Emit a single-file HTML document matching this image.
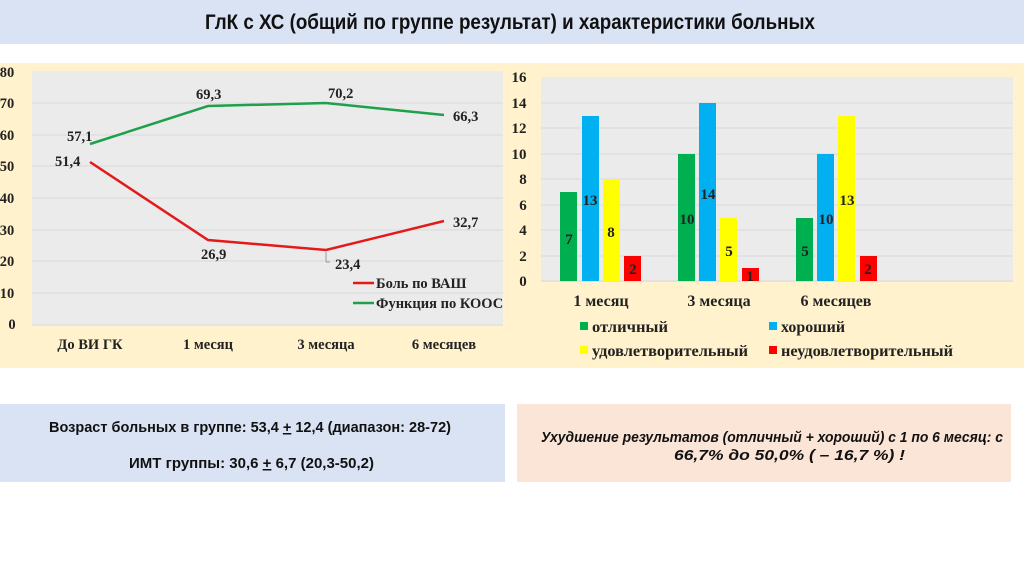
<!DOCTYPE html>
<html><head><meta charset="utf-8"><style>
html,body{margin:0;padding:0;background:#fff;width:1024px;height:574px;overflow:hidden}
svg{display:block}
.s{font-family:"Liberation Serif",serif;font-weight:bold;fill:#222}
.n{font-family:"Liberation Sans Narrow","Liberation Sans",sans-serif;fill:#111}
</style></head><body>
<svg width="1024" height="574" viewBox="0 0 1024 574">
<rect x="0" y="0" width="1024" height="44" fill="#dae3f3"/>
<text class="n" x="510" y="29" text-anchor="middle" font-size="21" font-weight="bold" textLength="610" lengthAdjust="spacingAndGlyphs">ГлК с ХС (общий по группе результат) и характеристики больных</text>
<rect x="0" y="63" width="1024" height="305" fill="#fff2cc"/>
<!-- left chart -->
<rect x="32" y="71" width="471" height="254" fill="#ebebeb"/>
<g stroke="#d9d9d9" stroke-width="1">
<line x1="32" y1="103" x2="503" y2="103"/><line x1="32" y1="135" x2="503" y2="135"/><line x1="32" y1="166" x2="503" y2="166"/><line x1="32" y1="198" x2="503" y2="198"/><line x1="32" y1="230" x2="503" y2="230"/><line x1="32" y1="261" x2="503" y2="261"/><line x1="32" y1="293" x2="503" y2="293"/><line x1="32" y1="325" x2="503" y2="325"/>
</g>
<g class="s" font-size="14.5" text-anchor="middle">
<text x="7" y="77">80</text><text x="7" y="108">70</text><text x="7" y="140">60</text><text x="7" y="171">50</text><text x="7" y="203">40</text><text x="7" y="235">30</text><text x="7" y="266">20</text><text x="7" y="298">10</text><text x="12" y="329">0</text>
<text x="90" y="349">До ВИ ГК</text><text x="208" y="349">1 месяц</text><text x="326" y="349">3 месяца</text><text x="444" y="349">6 месяцев</text>
</g>
<polyline points="90,144 208,106 326,103 444,115" fill="none" stroke="#1fa04a" stroke-width="2.5"/>
<polyline points="90,162 208,240 326,250 444,221" fill="none" stroke="#e41a1a" stroke-width="2.5"/>
<line x1="326" y1="252" x2="326" y2="262" stroke="#999"/><line x1="326" y1="262" x2="330" y2="262" stroke="#999"/>
<g class="s" font-size="14.5">
<text x="67" y="141">57,1</text><text x="196" y="99">69,3</text><text x="328" y="98">70,2</text><text x="453" y="121">66,3</text>
<text x="55" y="166">51,4</text><text x="201" y="259">26,9</text><text x="335" y="269">23,4</text><text x="453" y="227">32,7</text>
<text x="376" y="288">Боль по ВАШ</text><text x="376" y="308">Функция по КООС</text>
</g>
<line x1="353" y1="283" x2="374" y2="283" stroke="#e41a1a" stroke-width="2.5"/>
<line x1="353" y1="303" x2="374" y2="303" stroke="#1fa04a" stroke-width="2.5"/>
<!-- right chart -->
<rect x="541" y="77" width="472" height="205" fill="#ebebeb"/>
<g stroke="#d9d9d9" stroke-width="1">
<line x1="541" y1="103" x2="1013" y2="103"/><line x1="541" y1="128" x2="1013" y2="128"/><line x1="541" y1="154" x2="1013" y2="154"/><line x1="541" y1="179" x2="1013" y2="179"/><line x1="541" y1="205" x2="1013" y2="205"/><line x1="541" y1="230" x2="1013" y2="230"/><line x1="541" y1="256" x2="1013" y2="256"/><line x1="541" y1="281" x2="1013" y2="281"/>
</g>
<g class="s" font-size="15" text-anchor="middle">
<text x="519" y="82">16</text><text x="519" y="108">14</text><text x="519" y="133">12</text><text x="519" y="159">10</text><text x="523" y="184">8</text><text x="523" y="210">6</text><text x="523" y="235">4</text><text x="523" y="261">2</text><text x="523" y="286">0</text>
</g>
<g class="s" font-size="16" text-anchor="middle">
<text x="601" y="306">1 месяц</text><text x="719" y="306">3 месяца</text><text x="836" y="306">6 месяцев</text>
</g>
<g>
<rect x="560" y="192" width="17" height="89" fill="#00b050"/><rect x="582" y="116" width="17" height="165" fill="#00b0f0"/><rect x="603" y="179" width="17" height="102" fill="#ffff00"/><rect x="624" y="256" width="17" height="25" fill="#ff0000"/>
<rect x="678" y="154" width="17" height="127" fill="#00b050"/><rect x="699" y="103" width="17" height="178" fill="#00b0f0"/><rect x="720" y="218" width="17" height="63" fill="#ffff00"/><rect x="742" y="268" width="17" height="13" fill="#ff0000"/>
<rect x="796" y="218" width="17" height="63" fill="#00b050"/><rect x="817" y="154" width="17" height="127" fill="#00b0f0"/><rect x="838" y="116" width="17" height="165" fill="#ffff00"/><rect x="860" y="256" width="17" height="25" fill="#ff0000"/>
</g>
<g class="s" font-size="15" text-anchor="middle">
<text x="569" y="244">7</text><text x="590" y="205">13</text><text x="611" y="237">8</text><text x="633" y="274">2</text>
<text x="687" y="224">10</text><text x="708" y="199">14</text><text x="729" y="256">5</text><text x="750" y="281">1</text>
<text x="805" y="256">5</text><text x="826" y="224">10</text><text x="847" y="205">13</text><text x="868" y="274">2</text>
</g>
<rect x="580" y="322" width="8" height="8" fill="#00b050"/><rect x="769" y="322" width="8" height="8" fill="#00b0f0"/>
<rect x="580" y="346" width="8" height="8" fill="#ffff00"/><rect x="769" y="346" width="8" height="8" fill="#ff0000"/>
<g class="s" font-size="16">
<text x="592" y="332" textLength="76" lengthAdjust="spacingAndGlyphs">отличный</text><text x="781" y="332" textLength="64" lengthAdjust="spacingAndGlyphs">хороший</text>
<text x="592" y="356" textLength="156" lengthAdjust="spacingAndGlyphs">удовлетворительный</text><text x="781" y="356" textLength="172" lengthAdjust="spacingAndGlyphs">неудовлетворительный</text>
</g>
<!-- bottom boxes -->
<rect x="0" y="404" width="505" height="78" fill="#dae3f3"/>
<rect x="517" y="404" width="494" height="78" fill="#fbe5d6"/>
<g class="n" font-size="15" font-weight="bold">
<text x="49" y="432" textLength="402" lengthAdjust="spacingAndGlyphs">Возраст больных в группе: 53,4 <tspan text-decoration="underline">+</tspan> 12,4 (диапазон: 28-72)</text>
<text x="129" y="468" textLength="245" lengthAdjust="spacingAndGlyphs">ИМТ группы: 30,6 <tspan text-decoration="underline">+</tspan> 6,7 (20,3-50,2)</text>
<text x="541" y="442" font-style="italic" textLength="462" lengthAdjust="spacingAndGlyphs">Ухудшение результатов (отличный + хороший) с 1 по 6 месяц: с</text>
<text x="674" y="460" font-style="italic" textLength="231" lengthAdjust="spacingAndGlyphs">66,7% до 50,0% ( – 16,7 %) !</text>
</g>
</svg>
</body></html>
